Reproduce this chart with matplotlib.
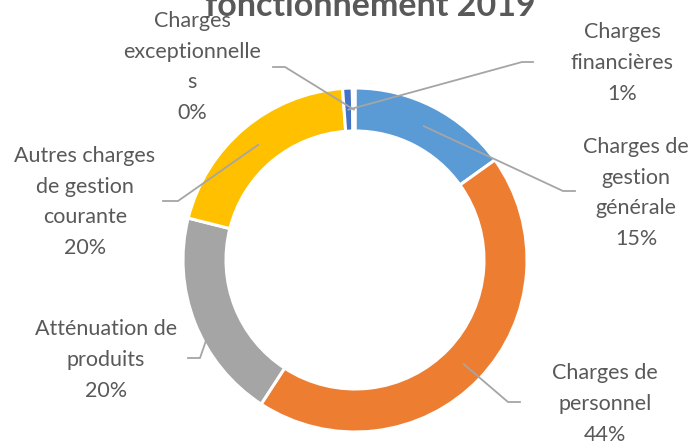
import numpy as np
import matplotlib.pyplot as plt

plt.rcParams['font.family'] = ['Lato', 'DejaVu Sans']

# data (percent of operating expenses, 2019)
categories = ["Charges de gestion générale", "Charges de personnel", "Atténuation de produits",
              "Autres charges de gestion courante", "Charges financières", "Charges exceptionnelles"]
values = [15.1, 44.0, 19.7, 19.9, 0.9, 0.25]
wrapped = ["Charges de\ngestion\ngénérale", "Charges de\npersonnel", "Atténuation de\nproduits",
           "Autres charges\nde gestion\ncourante", "Charges\nfinancières", "Charges\nexceptionnelle\ns"]
colors = ["#5B9BD5", "#ED7D31", "#A5A5A5", "#FFC000", "#4472C4", "#70AD47"]

W, H = 695, 441
fig = plt.figure(figsize=(W / 100, H / 100), dpi=100)
ax = fig.add_axes([0, 0, 1, 1])

cx, cy, R = 355, H - 260, 172
ring = 0.25 * R
wedges, _ = ax.pie(values, colors=colors, startangle=90, counterclock=False,
                   center=(cx, cy), radius=R,
                   wedgeprops=dict(width=ring, edgecolor='white', linewidth=2.2))

# label blocks: text centre, leader elbow, leader end (pixel coords from top)
label_pos = [(636, 193), (605, 404), (106, 360), (85, 202), (622, 63), (192, 67)]
elbows = [(563, 191), (508, 402), (200, 358), (178, 201), (522, 62), (285, 67)]
ends = [(575, 191), (520, 402), (188, 358), (163, 201), (533, 62), (273, 67)]

txt_col = '#595959'
for w, lab, v, (tx, ty), (ex, ey), (fx, fy) in zip(wedges, wrapped, values, label_pos, elbows, ends):
    mid = np.deg2rad((w.theta1 + w.theta2) / 2)
    rm = R - ring / 2
    px, py = cx + rm * np.cos(mid), cy + rm * np.sin(mid)
    ax.plot([px, ex, fx], [py, H - ey, H - fy], color='#A5A5A5', lw=1.3, zorder=3)
    ax.text(tx, H - ty, f"{lab}\n{round(v)}%", ha='center', va='center',
            fontsize=15.5, color=txt_col, linespacing=1.68)

ax.text(370, H - 16, "fonctionnement 2019", ha='center', va='baseline',
        fontsize=24.5, fontweight='bold', color=txt_col)

ax.set_xlim(0, W)
ax.set_ylim(0, H)
ax.axis('off')

fig.savefig('out.png', dpi=100)
